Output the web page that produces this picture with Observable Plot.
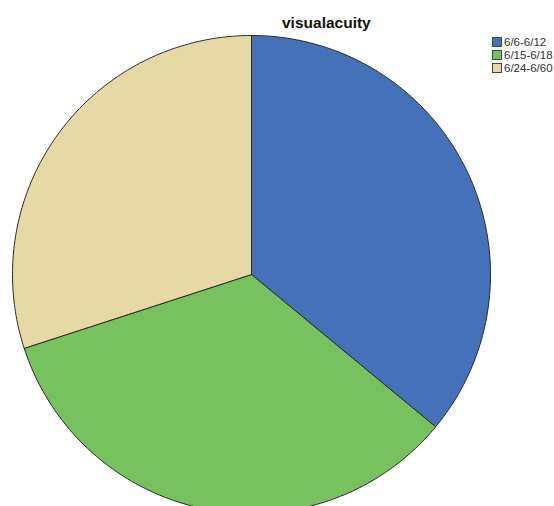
<!DOCTYPE html>
<html>
<head>
<meta charset="utf-8">
<script src="https://cdn.jsdelivr.net/npm/d3@7"></script>
<script src="https://cdn.jsdelivr.net/npm/@observablehq/plot@0.6"></script>
<style>
  body { margin: 0; background: #fff; font-family: "Liberation Sans", Arial, sans-serif; }
  #wrap { position: relative; width: 554px; height: 506px; overflow: hidden; }
  #title { position: absolute; left: 282px; top: 14px; font-weight: bold; font-size: 15.5px; color: #111; line-height: 18px; }
  #legend { position: absolute; left: 492px; top: 35px; font-size: 11.5px; color: #333; white-space: nowrap; }
  .row { display: flex; align-items: center; height: 13px; }
  .sw { width: 10px; height: 10px; border: 1px solid #444; margin-right: 2px; box-sizing: border-box; }
</style>
</head>
<body>
<div id="wrap">
  <div id="chart"></div>
  <div id="title">visualacuity</div>
  <div id="legend"></div>
</div>
<script>
const categories = ["6/6-6/12", "6/15-6/18", "6/24-6/60"];
const counts = [36, 34, 30];
const colors = ["#4571B8", "#77C15F", "#E7D9A6"];

const pie = d3.pie().sort(null).value(d => d.count)(categories.map((c, i) => ({cat: c, count: counts[i]})));
const pts = [];
pie.forEach(s => {
  const n = 120;
  pts.push({cat: s.data.cat, x: 0, y: 0});
  for (let k = 0; k <= n; k++) {
    const a = s.startAngle + (s.endAngle - s.startAngle) * k / n;
    pts.push({cat: s.data.cat, x: Math.sin(a), y: Math.cos(a)});
  }
  pts.push({cat: s.data.cat, x: 0, y: 0});
});

const cx = 251, cy = 274, r = 239;
const chart = Plot.plot({
  width: 554,
  height: 506,
  margin: 0,
  x: {domain: [-1, 1], range: [cx - r, cx + r], axis: null},
  y: {domain: [-1, 1], range: [cy + r, cy - r], axis: null},
  color: {domain: categories, range: colors},
  marks: [
    Plot.line(pts, {x: "x", y: "y", z: "cat", fill: "cat", stroke: "#2b2b2b", strokeWidth: 1, curve: "linear"})
  ]
});
document.getElementById("chart").appendChild(chart);

const leg = document.getElementById("legend");
categories.forEach((c, i) => {
  const row = document.createElement("div");
  row.className = "row";
  const sw = document.createElement("div");
  sw.className = "sw";
  sw.style.background = colors[i];
  const t = document.createElement("span");
  t.textContent = c;
  row.appendChild(sw); row.appendChild(t);
  leg.appendChild(row);
});
</script>
</body>
</html>
